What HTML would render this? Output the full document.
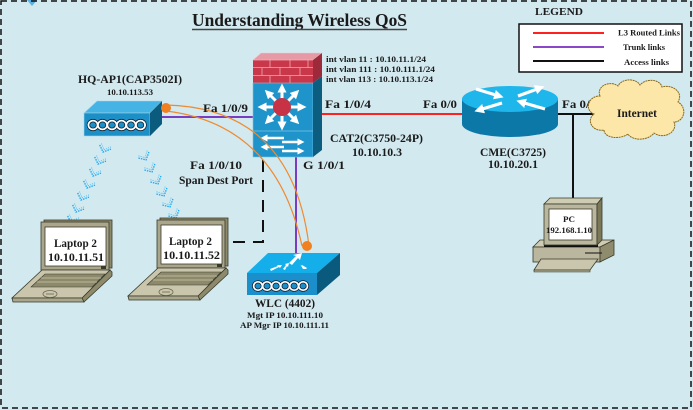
<!DOCTYPE html>
<html><head><meta charset="utf-8">
<style>
html,body{margin:0;padding:0;background:#d2e9ef;}
svg{display:block;}
text{font-family:"Liberation Serif",serif;font-weight:bold;fill:#1a1a1a;}
</style></head>
<body>
<svg width="693" height="410" viewBox="0 0 693 410" xmlns="http://www.w3.org/2000/svg">
<defs>
<marker id="wa" markerWidth="3" markerHeight="3" refX="1.5" refY="1.5" orient="auto" markerUnits="strokeWidth">
<path d="M0,0 L3,1.5 L0,3z" fill="#fff"/>
</marker>
<g id="laptop">
 <rect x="44" y="220" width="68" height="48" fill="#8d8a6c" stroke="#3a3a2a" stroke-width="0.8"/>
 <rect x="41" y="222" width="68" height="48" fill="#a9a68b" stroke="#3a3a2a" stroke-width="0.8"/>
 <rect x="45" y="227" width="61" height="39" fill="#fff" stroke="#3a3a2a" stroke-width="0.8"/>
 <rect x="101" y="266" width="5" height="3" fill="#3a3a2a"/>
 <polygon points="110,270 112,272 112,276 84,302 82,298" fill="#8d8a6c" stroke="#3a3a2a" stroke-width="0.8"/>
 <polygon points="42,270 110,270 82,298 12,298" fill="#c9c6ad" stroke="#3a3a2a" stroke-width="0.8"/>
 <polygon points="12,298 82,298 84,302 13,302" fill="#a9a68b" stroke="#3a3a2a" stroke-width="0.8"/>
 <polygon points="45,274 105,274 92,287 31,287" fill="#8d8a6c" stroke="#3a3a2a" stroke-width="0.6"/>
 <line x1="41" y1="278" x2="101" y2="278" stroke="#c9c6ad" stroke-width="0.7"/>
 <line x1="37" y1="282" x2="97" y2="282" stroke="#c9c6ad" stroke-width="0.7"/>
 <ellipse cx="50" cy="294" rx="7" ry="3.5" fill="none" stroke="#6a6850" stroke-width="0.8"/>
 <line x1="46" y1="294" x2="54" y2="294" stroke="#6a6850" stroke-width="0.8"/>
</g>
<g id="rings">
 <g fill="none" stroke="#123" stroke-width="3.4">
  <ellipse cx="0" cy="0" rx="4.6" ry="4.4"/><ellipse cx="9.5" cy="0" rx="4.6" ry="4.4"/><ellipse cx="19" cy="0" rx="4.6" ry="4.4"/><ellipse cx="28.5" cy="0" rx="4.6" ry="4.4"/><ellipse cx="38" cy="0" rx="4.6" ry="4.4"/><ellipse cx="47.5" cy="0" rx="4.6" ry="4.4"/>
 </g>
 <g fill="none" stroke="#fff" stroke-width="1.8">
  <ellipse cx="0" cy="0" rx="4.6" ry="4.4"/><ellipse cx="9.5" cy="0" rx="4.6" ry="4.4"/><ellipse cx="19" cy="0" rx="4.6" ry="4.4"/><ellipse cx="28.5" cy="0" rx="4.6" ry="4.4"/><ellipse cx="38" cy="0" rx="4.6" ry="4.4"/><ellipse cx="47.5" cy="0" rx="4.6" ry="4.4"/>
 </g>
</g>
<g id="chev">
 <path d="M-6,-5 L0,0 L6,-6" fill="none" stroke="#1aa6f0" stroke-width="1.3" stroke-dasharray="1.5,1"/>
 <path d="M-5,-7 L0,-2.5 L5,-8" fill="none" stroke="#4cc0f8" stroke-width="1" stroke-dasharray="1,1.2"/>
</g>
</defs>

<rect x="0" y="0" width="693" height="410" fill="#d2e9ef"/>
<polygon points="27,0 32,6 37,0" fill="#5ab2e4"/>
<rect x="1" y="1" width="690" height="407" fill="none" stroke="#111" stroke-width="1.5" stroke-dasharray="6,4"/>

<!-- Title -->
<text x="192" y="26" font-size="18" textLength="215" lengthAdjust="spacingAndGlyphs">Understanding Wireless QoS</text>
<line x1="192" y1="29.5" x2="407" y2="29.5" stroke="#444" stroke-width="1.5"/>

<!-- Legend -->
<text x="535" y="15" font-size="11" textLength="48" lengthAdjust="spacingAndGlyphs">LEGEND</text>
<rect x="519" y="24" width="163" height="48" fill="#fff" stroke="#111" stroke-width="1.5"/>
<line x1="533" y1="33" x2="604" y2="33" stroke="#ff2020" stroke-width="2"/>
<line x1="533" y1="47" x2="604" y2="47" stroke="#8a48c8" stroke-width="2"/>
<line x1="533" y1="61" x2="604" y2="61" stroke="#111" stroke-width="2"/>
<text x="618" y="35.5" font-size="8.5" textLength="62" lengthAdjust="spacingAndGlyphs">L3 Routed Links</text>
<text x="623" y="50" font-size="8.5" textLength="42" lengthAdjust="spacingAndGlyphs">Trunk links</text>
<text x="624" y="65" font-size="8.5" textLength="45" lengthAdjust="spacingAndGlyphs">Access links</text>

<!-- Links -->
<line x1="160" y1="117" x2="254" y2="117" stroke="#7a3cc0" stroke-width="2"/>
<line x1="320" y1="114" x2="463" y2="114" stroke="#ff2020" stroke-width="2"/>
<line x1="556" y1="114" x2="595" y2="114" stroke="#111" stroke-width="2"/>
<line x1="573" y1="114" x2="573" y2="200" stroke="#111" stroke-width="2"/>
<line x1="296" y1="156" x2="296" y2="254" stroke="#7a3cc0" stroke-width="2"/>
<path d="M263,160 V242 H229" fill="none" stroke="#111" stroke-width="2" stroke-dasharray="12,8"/>

<!-- wireless chains -->
<g>
 <use href="#chev" transform="translate(103,152) rotate(25)"/>
 <use href="#chev" transform="translate(98,164) rotate(25)"/>
 <use href="#chev" transform="translate(93,176) rotate(25)"/>
 <use href="#chev" transform="translate(87,188) rotate(25)"/>
 <use href="#chev" transform="translate(81,200) rotate(25)"/>
 <use href="#chev" transform="translate(76,212) rotate(25)"/>
 <use href="#chev" transform="translate(71,223) rotate(25)"/>
 <use href="#chev" transform="translate(146,160) rotate(-25)"/>
 <use href="#chev" transform="translate(152,172) rotate(-25)"/>
 <use href="#chev" transform="translate(158,184) rotate(-25)"/>
 <use href="#chev" transform="translate(164,196) rotate(-25)"/>
 <use href="#chev" transform="translate(170,207) rotate(-25)"/>
 <use href="#chev" transform="translate(176,218) rotate(-25)"/>
</g>

<!-- AP -->
<polygon points="84,113 97,101 162,101 150,113" fill="#45b3e3" stroke="#9fd6f0" stroke-width="0.6"/>
<rect x="84" y="113" width="66" height="23" fill="#1b8fc6" stroke="#9fd6f0" stroke-width="0.6"/>
<polygon points="150,113 162,101 162,124 150,136" fill="#0a5b7e"/>
<use href="#rings" transform="translate(93,125)"/>
<text x="78" y="83" font-size="12" textLength="104" lengthAdjust="spacingAndGlyphs">HQ-AP1(CAP3502I)</text>
<text x="107" y="95" font-size="8" textLength="46" lengthAdjust="spacingAndGlyphs">10.10.113.53</text>

<!-- Switch -->
<polygon points="253,60 261,53 322,53 313,60" fill="#e59aa6" stroke="#f2c4cc" stroke-width="0.6"/>
<rect x="253" y="60" width="60" height="23" fill="#c8384a"/>
<g stroke="#eeaab4" stroke-width="0.8">
 <line x1="253" y1="67.5" x2="313" y2="67.5"/><line x1="253" y1="75.5" x2="313" y2="75.5"/>
 <line x1="270" y1="60" x2="270" y2="67.5"/><line x1="290" y1="60" x2="290" y2="67.5"/><line x1="308" y1="60" x2="308" y2="67.5"/>
 <line x1="262" y1="67.5" x2="262" y2="75.5"/><line x1="280" y1="67.5" x2="280" y2="75.5"/><line x1="300" y1="67.5" x2="300" y2="75.5"/>
 <line x1="270" y1="75.5" x2="270" y2="83"/><line x1="290" y1="75.5" x2="290" y2="83"/>
 <line x1="253" y1="60" x2="313" y2="60"/>
</g>
<polygon points="313,60 322,53 322,76 313,83" fill="#9c2a3a"/>
<rect x="253" y="83" width="60" height="74" fill="#1f94ca" stroke="#7cc4e6" stroke-width="0.6"/>
<line x1="253" y1="131" x2="313" y2="131" stroke="#7cc4e6" stroke-width="0.8"/>
<polygon points="313,83 322,76 322,150 313,157" fill="#0b5e80"/>
<g stroke="#fff" stroke-width="3" marker-end="url(#wa)">
 <line x1="282" y1="100" x2="282" y2="88"/>
 <line x1="282" y1="114" x2="282" y2="126"/>
 <line x1="275" y1="107" x2="262" y2="107"/>
 <line x1="289" y1="107" x2="302" y2="107"/>
 <line x1="276" y1="101" x2="268" y2="93"/>
 <line x1="288" y1="101" x2="296" y2="93"/>
 <line x1="276" y1="113" x2="268" y2="121"/>
 <line x1="288" y1="113" x2="296" y2="121"/>
</g>
<circle cx="282" cy="107" r="9" fill="#c83245"/>
<g stroke="#fff" stroke-width="2.4" marker-end="url(#wa)">
 <line x1="284" y1="138" x2="264" y2="138"/>
 <line x1="282" y1="142" x2="301" y2="142"/>
 <line x1="284" y1="147" x2="264" y2="147"/>
 <line x1="282" y1="151" x2="301" y2="151"/>
</g>

<!-- orange arcs -->
<path d="M166,105 Q292,108 309,246" fill="none" stroke="#f08a30" stroke-width="1.2"/>
<path d="M166,111 Q276,124 302,246" fill="none" stroke="#f08a30" stroke-width="1.2"/>
<circle cx="166" cy="108" r="5" fill="#f08020"/>

<!-- WLC -->
<polygon points="247,273 268,253 340,253 317,273" fill="#14aeea"/>
<rect x="247" y="273" width="70" height="22" fill="#1a8fcb"/>
<polygon points="317,273 340,253 340,275 317,295" fill="#0a5a7e"/>
<use href="#rings" transform="translate(258,286) scale(0.95)"/>
<g fill="#fff">
 <polygon points="289,263 296,256 293,255 302,253 300,260 298,258 292,265"/>
 <polygon points="270,269 278,266 277,265 282,265 280,268 279,267 271,271"/>
 <polygon points="283,269 286,265 285,264 289,263 288,267 287,266 285,270"/>
 <polygon points="302,265 307,268 306,269 303,269 300,264 301,266"/>
</g>
<circle cx="307" cy="246" r="5" fill="#f08020"/>
<text x="255" y="307" font-size="12" textLength="60" lengthAdjust="spacingAndGlyphs">WLC (4402)</text>
<text x="247" y="318" font-size="8" textLength="76" lengthAdjust="spacingAndGlyphs">Mgt IP 10.10.111.10</text>
<text x="240" y="328" font-size="8" textLength="89" lengthAdjust="spacingAndGlyphs">AP Mgr IP 10.10.111.11</text>

<!-- Router -->
<rect x="462" y="99" width="96" height="25" fill="#0b78a8"/>
<ellipse cx="510" cy="124" rx="48" ry="13" fill="#0b78a8"/>
<ellipse cx="510" cy="99" rx="48" ry="13" fill="#1fb6ec"/>
<g stroke="#fff" stroke-width="3.2" marker-end="url(#wa)">
 <line x1="476" y1="89" x2="499" y2="96"/>
 <line x1="518" y1="96" x2="540" y2="88"/>
 <line x1="502" y1="103" x2="479" y2="110"/>
 <line x1="545" y1="109" x2="521" y2="102"/>
</g>

<!-- Text labels -->
<text x="203" y="112" font-size="11.5" textLength="45" lengthAdjust="spacingAndGlyphs">Fa 1/0/9</text>
<text x="326" y="62" font-size="8" textLength="100" lengthAdjust="spacingAndGlyphs">int vlan 11  : 10.10.11.1/24</text>
<text x="326" y="72" font-size="8" textLength="109" lengthAdjust="spacingAndGlyphs">int vlan 111  : 10.10.111.1/24</text>
<text x="326" y="82" font-size="8" textLength="107" lengthAdjust="spacingAndGlyphs">int vlan 113 : 10.10.113.1/24</text>
<text x="325" y="108" font-size="11.5" textLength="46" lengthAdjust="spacingAndGlyphs">Fa 1/0/4</text>
<text x="423" y="108" font-size="11.5" textLength="34" lengthAdjust="spacingAndGlyphs">Fa 0/0</text>
<text x="330" y="142" font-size="12" textLength="93" lengthAdjust="spacingAndGlyphs">CAT2(C3750-24P)</text>
<text x="352" y="156" font-size="12" textLength="50" lengthAdjust="spacingAndGlyphs">10.10.10.3</text>
<text x="303" y="169" font-size="11.5" textLength="42" lengthAdjust="spacingAndGlyphs">G 1/0/1</text>
<text x="190" y="169" font-size="11.5" textLength="52" lengthAdjust="spacingAndGlyphs">Fa 1/0/10</text>
<text x="179" y="184" font-size="11.5" textLength="74" lengthAdjust="spacingAndGlyphs">Span Dest Port</text>
<text x="480" y="156" font-size="12" textLength="66" lengthAdjust="spacingAndGlyphs">CME(C3725)</text>
<text x="488" y="168" font-size="12" textLength="50" lengthAdjust="spacingAndGlyphs">10.10.20.1</text>
<text x="562" y="108" font-size="11.5" textLength="34" lengthAdjust="spacingAndGlyphs">Fa 0/1</text>

<!-- Cloud -->
<path d="M600,96 C596,86 610,80 618,86 C622,78 636,78 640,85 C646,78 660,79 662,87 C672,84 684,92 678,102 C688,108 684,122 674,122 C678,132 664,140 654,133 C648,141 632,141 628,134 C620,140 604,138 604,130 C592,132 586,120 594,114 C584,110 588,96 600,96 Z" fill="#fde7a8" stroke="#8a6a1a" stroke-width="1" stroke-dasharray="2,0.6"/>
<text x="617" y="117" font-size="12" textLength="40" lengthAdjust="spacingAndGlyphs">Internet</text>

<!-- PC -->
<polygon points="533,247 540,240 614,240 600,247" fill="#cfccb4" stroke="#3a3a2a" stroke-width="0.8"/>
<rect x="533" y="247" width="67" height="15" fill="#bab79e" stroke="#3a3a2a" stroke-width="0.8"/>
<polygon points="600,247 614,240 614,255 600,262" fill="#8f8c6e" stroke="#3a3a2a" stroke-width="0.8"/>
<line x1="585" y1="253" x2="602" y2="253" stroke="#111" stroke-width="1"/>
<rect x="544" y="244" width="54" height="3" fill="#111"/>
<polygon points="544,204 550,198 602,198 597,204" fill="#cfccb4" stroke="#3a3a2a" stroke-width="0.8"/>
<rect x="544" y="204" width="53" height="41" fill="#bab79e" stroke="#3a3a2a" stroke-width="0.8"/>
<polygon points="597,204 602,198 602,240 597,245" fill="#7a7858" stroke="#3a3a2a" stroke-width="0.8"/>
<rect x="549" y="209" width="43" height="31" fill="#fff" stroke="#3a3a2a" stroke-width="0.8"/>
<polygon points="541,259 598,259 590,270 534,270" fill="#c9c6ad" stroke="#3a3a2a" stroke-width="0.8"/>
<polygon points="534,270 590,270 590,272 534,272" fill="#a9a68b" stroke="#3a3a2a" stroke-width="0.6"/>
<text x="563" y="222" font-size="8" textLength="12" lengthAdjust="spacingAndGlyphs">PC</text>
<text x="546" y="233" font-size="8" textLength="46" lengthAdjust="spacingAndGlyphs">192.168.1.10</text>

<!-- Laptops -->
<use href="#laptop"/>
<use href="#laptop" transform="translate(116,-2)"/>
<text x="54" y="247" font-size="12" textLength="43" lengthAdjust="spacingAndGlyphs">Laptop 2</text>
<text x="48" y="261" font-size="12" textLength="56" lengthAdjust="spacingAndGlyphs">10.10.11.51</text>
<text x="169" y="245" font-size="12" textLength="43" lengthAdjust="spacingAndGlyphs">Laptop 2</text>
<text x="163" y="259" font-size="12" textLength="57" lengthAdjust="spacingAndGlyphs">10.10.11.52</text>
</svg>
</body></html>
